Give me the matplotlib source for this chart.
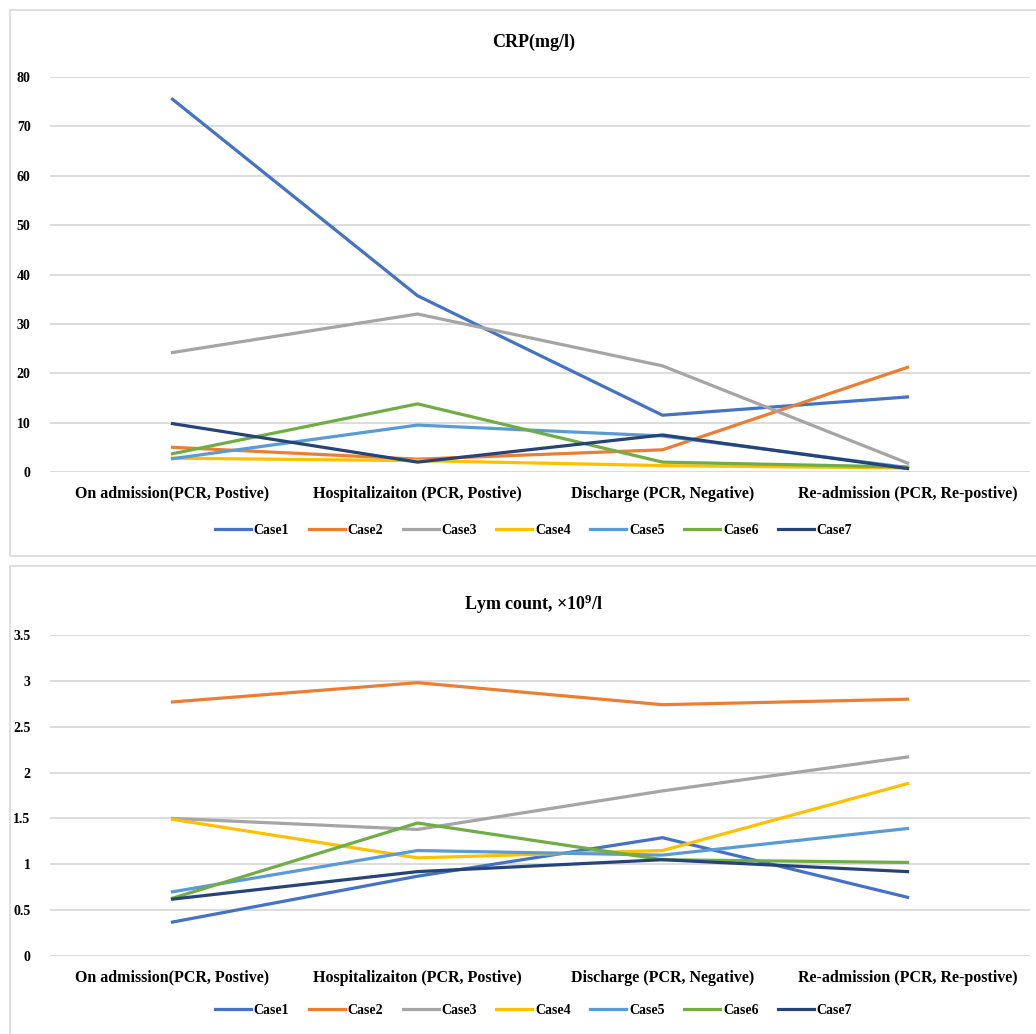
import numpy as np
import matplotlib
matplotlib.use('Agg')
import matplotlib.pyplot as plt
from matplotlib.patches import Rectangle

plt.rcParams['font.family'] = ['Liberation Serif', 'DejaVu Serif']
plt.rcParams['font.weight'] = 'bold'
plt.rcParams['mathtext.fontset'] = 'custom'
plt.rcParams['mathtext.rm'] = 'Liberation Serif:bold'
plt.rcParams['mathtext.default'] = 'rm'

# data
stages = ['On admission(PCR, Postive)', 'Hospitalizaiton (PCR, Postive)',
          'Discharge (PCR, Negative)', 'Re-admission (PCR, Re-postive)']
cases = ['Case1', 'Case2', 'Case3', 'Case4', 'Case5', 'Case6', 'Case7']
colors = ['#4472C4', '#ED7D31', '#A5A5A5', '#FFC000', '#5B9BD5', '#70AD47', '#264478']

crp_case1 = [75.5, 35.7, 11.5, 15.2]
crp_case2 = [5.0, 2.6, 4.5, 21.2]
crp_case3 = [24.2, 32.0, 21.5, 1.8]
crp_case4 = [2.8, 2.3, 1.3, 0.8]
crp_case5 = [2.7, 9.5, 7.3, 0.9]
crp_case6 = [3.7, 13.8, 2.0, 1.0]
crp_case7 = [9.8, 2.0, 7.5, 0.7]
crp = [crp_case1, crp_case2, crp_case3, crp_case4, crp_case5, crp_case6, crp_case7]

lym_case1 = [0.37, 0.87, 1.29, 0.64]
lym_case2 = [2.77, 2.98, 2.74, 2.80]
lym_case3 = [1.50, 1.38, 1.80, 2.17]
lym_case4 = [1.49, 1.07, 1.15, 1.88]
lym_case5 = [0.70, 1.15, 1.10, 1.39]
lym_case6 = [0.63, 1.45, 1.05, 1.02]
lym_case7 = [0.62, 0.92, 1.05, 0.92]
lym = [lym_case1, lym_case2, lym_case3, lym_case4, lym_case5, lym_case6, lym_case7]

W, H = 1036, 1034
fig = plt.figure(figsize=(W / 100, H / 100), dpi=100)

# panel frames like the excel chart areas
for y0, y1 in [(10, 556), (566, 1040)]:
    fig.patches.append(Rectangle((10 / W, 1 - y1 / H), (W + 20) / W, (y1 - y0) / H,
                                 transform=fig.transFigure, fill=False,
                                 edgecolor='#D9D9D9', linewidth=1.2))


def draw(ax, series, yticks, title, title_y, legend_y):
    x = np.arange(len(stages))
    for vals, name, c in zip(series, cases, colors):
        ax.plot(x, vals, color=c, linewidth=2.3, label=name)
    ax.set_xlim(-0.5, len(stages) - 0.5)
    ax.set_ylim(yticks[0], yticks[-1])
    ax.set_yticks(yticks)
    ax.set_yticklabels([f'{t:g}' for t in yticks], fontsize=10, fontweight='bold')
    ax.set_xticks(x)
    ax.set_xticklabels(stages, fontsize=11.5, fontweight='bold')
    ax.tick_params(length=0)
    ax.tick_params(axis='x', pad=10)
    ax.tick_params(axis='y', pad=14)
    for s in ax.spines.values():
        s.set_visible(False)
    ax.grid(axis='y', color='#D9D9D9', linewidth=1.3)
    ax.set_axisbelow(True)
    fig.text(0.515, 1 - title_y / H, title, ha='center', va='center',
             fontsize=13, fontweight='bold')
    fig.legend(*ax.get_legend_handles_labels(), loc='center',
               bbox_to_anchor=(0.515, 1 - legend_y / H), ncol=7, frameon=False,
               handlelength=2.6, columnspacing=1.4, handletextpad=0.2,
               prop={'weight': 'bold', 'size': 10})


ax1 = fig.add_axes([50 / W, 1 - 472 / H, 980 / W, 395 / H])
draw(ax1, crp, [0, 10, 20, 30, 40, 50, 60, 70, 80], 'CRP(mg/l)', 42, 530)

ax2 = fig.add_axes([50 / W, 1 - 956 / H, 980 / W, 321 / H])
draw(ax2, lym, [0, 0.5, 1, 1.5, 2, 2.5, 3, 3.5], 'Lym count, ×10$^{9}$/l', 604, 1010)

fig.savefig('out.png', dpi=100)
